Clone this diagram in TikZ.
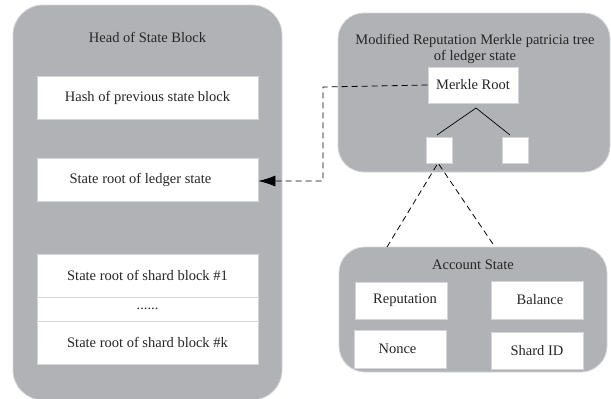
\documentclass[tikz,border=0pt]{standalone}
\usepackage{fontspec}
\setmainfont{Liberation Serif}
\usetikzlibrary{arrows.meta}
\definecolor{panel}{HTML}{B1B2B5}
\definecolor{rim}{HTML}{D4D5D8}
% nudge a cell's text sideways by #1 (positive = right)
\newcommand{\nudged}[2]{\hspace*{#1}#2\hspace*{-#1}}
\begin{document}
\begin{tikzpicture}[x=1pt,y=-1pt,
  panelbox/.style={fill=panel,draw=rim,line width=0.8pt,rounded corners=30pt},
  cell/.style={fill=white,draw=rim,line width=0.8pt},
  lbl/.style={font=\fontsize{14.5}{16}\selectfont,text=black!85},
  tree/.style={line width=0.7pt},
  dashlink/.style={dashed,dash pattern=on 6pt off 4pt,line width=0.8pt}]
\useasboundingbox (0,0) rectangle (611,399);
% left panel: head of state block
\draw[panelbox] (13,5) rectangle (282,400);
\node[lbl] (head) at (147.5,37) {Head of State Block};
\node[cell,lbl,minimum width=221pt,minimum height=43pt] (hash) at (147.5,97.5) {Hash of previous state block};
\node[cell,lbl,minimum width=221pt,minimum height=43pt] (ledger) at (147.5,180) {\nudged{-7pt}{State root of ledger state}};
\node[cell,lbl,minimum width=221pt,minimum height=43pt] (shard1) at (147.5,275.5) {State root of shard block \#1};
\node[cell,lbl,minimum width=221pt,minimum height=24pt] (dots) at (147.5,309) {......};
\node[cell,lbl,minimum width=221pt,minimum height=43pt] (shardk) at (147.5,342.5) {State root of shard block \#k};
% right upper panel: merkle tree
\draw[panelbox,rounded corners=26pt] (338,13) rectangle (610,172);
\node[lbl,align=center,inner sep=0pt] (mptitle) at (475,49) {Modified Reputation Merkle patricia tree\\of ledger state};
\node[cell,lbl,minimum width=90pt,minimum height=36pt] (root) at (473,85) {Merkle Root};
\node[cell,minimum width=26pt,minimum height=26pt,inner sep=0pt] (leafl) at (439,150) {};
\node[cell,minimum width=26pt,minimum height=26pt,inner sep=0pt] (leafr) at (515,150) {};
\coordinate (fork) at (476,108);
\coordinate (tl) at (437,135);
\coordinate (tr) at (510,135);
\draw[tree] (tl) -- (fork) -- (tr);
% right lower panel: account state
\draw[panelbox,rounded corners=26pt] (339,247) rectangle (607,372);
\node[lbl] (acct) at (473,265) {Account State};
\node[cell,lbl,minimum width=92pt,minimum height=37pt] (rep) at (401,300.5) {\nudged{4pt}{Reputation}};
\node[cell,lbl,minimum width=92pt,minimum height=38pt] (bal) at (537,300) {\nudged{3pt}{Balance}};
\node[cell,lbl,minimum width=92pt,minimum height=38pt] (nonce) at (400,349) {\nudged{-2.5pt}{Nonce}};
\node[cell,lbl,minimum width=92pt,minimum height=37pt] (sid) at (537,350.5) {Shard ID};
% links
\coordinate (bend1) at (323,87);
\coordinate (bend2) at (323,181);
\draw[dashlink,-{Latex[length=17pt,width=11pt]}] (root.west) -- (bend1) -- (bend2) -- (ledger.east |- bend2);
\coordinate (fan) at (438,163);
\coordinate (fanl) at (387,247);
\coordinate (fanr) at (495,247);
\draw[dashlink] (fanl) -- (fan) -- (fanr);
\end{tikzpicture}
\end{document}
